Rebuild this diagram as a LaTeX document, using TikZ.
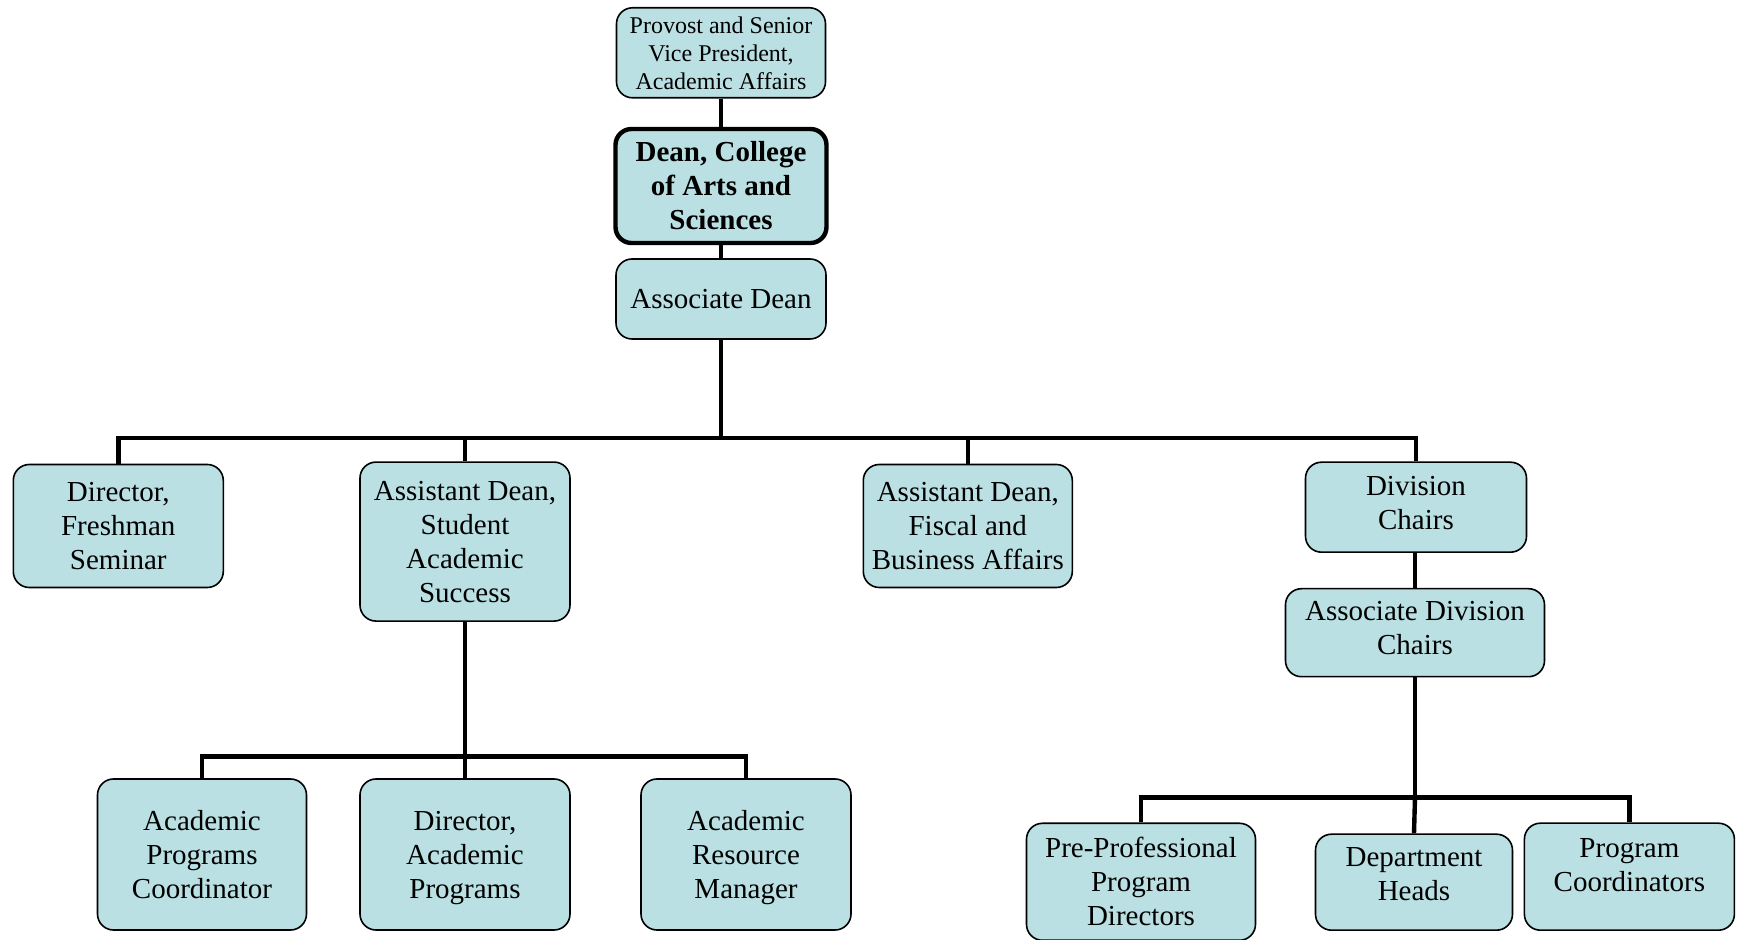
\documentclass[tikz,border=0pt]{standalone}
\usepackage{fontspec}
\setmainfont{Liberation Serif}
\definecolor{boxfill}{RGB}{186,224,227}

\tikzset{every picture/.style={line width=0.75pt}}
\tikzset{
  orgbox/.style={draw=black, fill=boxfill, rounded corners=8pt, line width=0.8pt,
    align=center, inner sep=0pt, font=\fontsize{14.5}{17}\selectfont},
  conn/.style={line width=2.2pt}
}

\begin{document}
\begin{tikzpicture}[x=0.5pt,y=0.5pt,yscale=-1,xscale=1]
\useasboundingbox (0,0) rectangle (1742,940);

% Top of chart
\node[orgbox, minimum width=104.5pt, minimum height=45pt, font=\fontsize{12}{14}\selectfont] (prov) at (721,52.8) {Provost and Senior\\Vice President,\\Academic Affairs};
\node[orgbox, minimum width=105.5pt, minimum height=57pt, line width=2.2pt, font=\bfseries\fontsize{14.5}{17}\selectfont] (dean) at (721,186) {Dean, College\\of Arts and\\Sciences};
\node[orgbox, minimum width=105pt, minimum height=40pt] (assoc) at (721,299) {Associate Dean};

% Second row
\node[orgbox, minimum width=105pt, minimum height=61.5pt] (dfs) at (118.3,526) {Director,\\Freshman\\Seminar};
\node[orgbox, minimum width=105pt, minimum height=79.5pt] (asd) at (465,541.6) {Assistant Dean,\\Student\\Academic\\Success};
\node[orgbox, minimum width=104.5pt, minimum height=61.5pt] (afb) at (967.8,526) {Assistant Dean,\\Fiscal and\\Business Affairs};
\node[orgbox, minimum width=110.5pt, minimum height=45pt, text depth=4.5pt] (divc) at (1416,507.2) {Division\\Chairs};
\node[orgbox, minimum width=129.5pt, minimum height=44pt, text depth=4.5pt] (adc) at (1415,632.7) {Associate Division\\Chairs};

% Bottom left
\node[orgbox, minimum width=104.5pt, minimum height=75.5pt] (apc) at (202,854.5) {Academic\\Programs\\Coordinator};
\node[orgbox, minimum width=105pt, minimum height=75.5pt, text depth=0pt] (dap) at (465,854.5) {Director,\\Academic\\Programs};
\node[orgbox, minimum width=105pt, minimum height=75.5pt, text depth=0pt] (arm) at (746,854.5) {Academic\\Resource\\Manager};

% Bottom right
\node[orgbox, minimum width=114.5pt, minimum height=58.5pt] (ppd) at (1141,881.8) {Pre-Professional\\Program\\Directors};
\node[orgbox, minimum width=98.5pt, minimum height=48pt, text depth=8pt] (dh) at (1414,882.2) {Department\\Heads};
\node[orgbox, minimum width=105pt, minimum height=53.5pt, text depth=12pt] (pc) at (1629.4,876.7) {Program\\Coordinators};

% Connectors
\coordinate (bus1) at (721,437.8);
\coordinate (bus2) at (465,756.6);
\coordinate (bus3) at (1415,797.7);

\draw[conn] (prov) -- (dean);
\draw[conn] (dean) -- (assoc);
\draw[conn] (assoc) -- (bus1);
\draw[conn] (dfs.north) |- (bus1) -| (divc.north);
\draw[conn] (asd.north) -- (asd.north |- bus1);
\draw[conn] (afb.north) -- (afb.north |- bus1);
\draw[conn] (divc.south -| adc.north) -- (adc.north);

\draw[conn] (asd) -- (bus2);
\draw[conn] (apc.north) |- (bus2) -| (arm.north);
\draw[conn] (bus2) -- (dap.north);

\draw[conn] (adc) -- (bus3);
\draw[conn] (ppd.north) |- (bus3) -| (pc.north);
\draw[conn] (bus3) -- (dh.north);

\end{tikzpicture}
\end{document}
